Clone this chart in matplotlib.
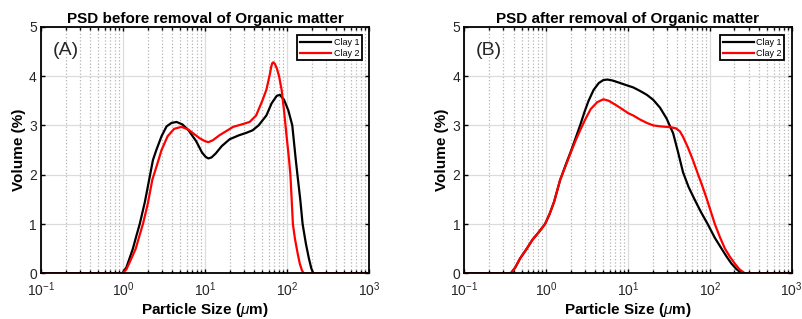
import matplotlib
matplotlib.use("Agg")
import matplotlib.pyplot as plt
from matplotlib.ticker import LogLocator, NullFormatter

plt.rcParams["font.family"] = ["Liberation Sans", "DejaVu Sans"]
plt.rcParams["mathtext.fontset"] = "custom"
plt.rcParams["mathtext.rm"] = "Liberation Sans"
plt.rcParams["mathtext.it"] = "Liberation Sans:italic"
plt.rcParams["mathtext.bf"] = "Liberation Sans:bold"

# (A) before removal of organic matter
a_clay1_x = [0.1, 0.98, 1.0, 1.1, 1.2, 1.32, 1.45, 1.6, 1.85, 2.08, 2.32, 2.55, 2.95, 3.4,
             3.9, 4.5, 5.3, 6.3, 7.8, 9.2, 10.2, 11, 12, 13.5, 16, 20, 26, 32, 38, 45, 56,
             65, 75, 82, 92, 104, 116, 128, 134, 145, 155, 170, 185, 198, 209, 1000]
a_clay1_y = [0, 0, 0.02, 0.12, 0.3, 0.5, 0.75, 1.0, 1.45, 1.89, 2.3, 2.5, 2.78, 2.98,
             3.05, 3.07, 3.02, 2.9, 2.68, 2.45, 2.36, 2.33, 2.35, 2.43, 2.58, 2.72, 2.8,
             2.85, 2.9, 3.0, 3.2, 3.45, 3.6, 3.62, 3.52, 3.3, 3.0, 2.3, 2.0, 1.5, 1.0, 0.6,
             0.3, 0.1, 0, 0]

a_clay2_x = [0.1, 0.98, 1.02, 1.1, 1.25, 1.43, 1.58, 1.75, 2.0, 2.28, 2.6, 2.95, 3.5, 4.2,
             5.15, 6.2, 7.3, 8.6, 10, 11, 12.5, 15, 18, 22, 28, 35, 42, 50, 56, 62, 64, 66,
             68, 71, 75, 80, 86, 92, 98, 106, 110, 114, 118, 125, 135, 143, 152, 160, 1000]
a_clay2_y = [0, 0, 0.02, 0.08, 0.28, 0.5, 0.75, 1.0, 1.4, 1.9, 2.2, 2.5, 2.78, 2.93,
             2.97, 2.92, 2.83, 2.74, 2.68, 2.66, 2.7, 2.8, 2.88, 2.97, 3.02, 3.07, 3.2, 3.5,
             3.72, 4.05, 4.18, 4.26, 4.28, 4.25, 4.16, 4.0, 3.72, 3.3, 2.84, 2.3, 2.0, 1.5,
             1.0, 0.7, 0.4, 0.2, 0.06, 0, 0]

# (B) after removal of organic matter
b_clay1_x = [0.1, 0.37, 0.42, 0.48, 0.58, 0.68, 0.8, 0.97, 1.1, 1.25, 1.48, 1.75, 2.0, 2.3,
             2.6, 2.95, 3.3, 3.8, 4.4, 5.0, 5.6, 6.5, 8, 9.8, 11.6, 14, 17, 20.3, 24.6, 29.6,
             35.6, 41, 47, 55, 65, 78, 94, 115, 139, 160, 183, 210, 244, 1000]
b_clay1_y = [0, 0, 0.12, 0.3, 0.5, 0.68, 0.82, 1.0, 1.2, 1.45, 1.89, 2.22, 2.47, 2.75,
             3.0, 3.28, 3.5, 3.72, 3.86, 3.92, 3.93, 3.91, 3.86, 3.81, 3.77, 3.7, 3.62, 3.52,
             3.36, 3.14, 2.84, 2.45, 2.05, 1.75, 1.5, 1.24, 1.0, 0.72, 0.5, 0.34, 0.2, 0.09,
             0, 0]

b_clay2_x = [0.1, 0.37, 0.42, 0.48, 0.58, 0.68, 0.8, 0.97, 1.1, 1.25, 1.48, 1.75, 2.0, 2.3,
             2.6, 3.0, 3.5, 4.2, 5.0, 5.8, 7, 8.5, 10, 11.6, 14, 17, 20.3, 25, 29.6, 34,
             38.6, 43, 47, 54, 62, 72, 79, 90, 102, 115, 133, 153, 175, 201, 230, 268, 1000]
b_clay2_y = [0, 0, 0.12, 0.3, 0.5, 0.68, 0.82, 1.0, 1.2, 1.45, 1.89, 2.2, 2.45, 2.7,
             2.9, 3.12, 3.33, 3.47, 3.53, 3.5, 3.42, 3.33, 3.25, 3.2, 3.12, 3.05, 3.0, 2.98,
             2.97, 2.96, 2.94, 2.88, 2.77, 2.55, 2.3, 2.0, 1.82, 1.55, 1.27, 1.0, 0.73, 0.5,
             0.34, 0.2, 0.08, 0, 0]

titles = ["PSD before removal of Organic matter", "PSD after removal of Organic matter"]
panel_tags = ["(A)", "(B)"]
series_labels = ["Clay 1", "Clay 2"]


def style_axes(ax):
    ax.set_xscale("log")
    ax.set_xlim(0.1, 1000)
    ax.set_ylim(0, 5)
    ax.set_yticks([0, 1, 2, 3, 4, 5])
    ax.xaxis.set_minor_locator(LogLocator(base=10, subs=range(2, 10), numticks=20))
    ax.xaxis.set_minor_formatter(NullFormatter())
    ax.set_axisbelow(True)
    ax.grid(True, which="major", color="#dcdcdc", linewidth=0.9, linestyle="-")
    ax.grid(True, which="minor", axis="x", color="#b4b4b4", linewidth=0.9, linestyle=":")
    ax.tick_params(which="both", direction="in", top=True, right=True,
                   labelsize=10, labelcolor="#262626", width=1.0)
    ax.tick_params(which="major", length=3)
    ax.tick_params(which="minor", length=2)
    ax.tick_params(axis="x", pad=5)
    ax.tick_params(axis="y", pad=3)
    for sp in ax.spines.values():
        sp.set_linewidth(1.3)
        sp.set_color("black")


fig = plt.figure(figsize=(8.02, 3.19), dpi=100)
ax_a = fig.add_axes([41 / 802, 45.7 / 319, 328 / 802, 246.5 / 319])
ax_b = fig.add_axes([464.3 / 802, 45.7 / 319, 327.4 / 802, 246.5 / 319])

data = [
    (a_clay1_x, a_clay1_y, a_clay2_x, a_clay2_y),
    (b_clay1_x, b_clay1_y, b_clay2_x, b_clay2_y),
]

for ax, (x1, y1, x2, y2), title, tag in zip([ax_a, ax_b], data, titles, panel_tags):
    style_axes(ax)
    ax.plot(x1, y1, color="black", linewidth=1.6, label=series_labels[0])
    ax.plot(x2, y2, color="#ff0000", linewidth=1.6, label=series_labels[1])
    ax.set_title(title, fontsize=11, fontweight="bold", pad=3)
    ax.set_xlabel(r"Particle Size ($\mu$m)", fontsize=11, fontweight="bold", labelpad=1.5)
    ax.set_ylabel("Volume (%)", fontsize=11, fontweight="bold", labelpad=2)
    ax.text(0.076, 0.905, tag, transform=ax.transAxes, fontsize=14,
            ha="center", va="center", color="#262626")
    leg = ax.legend(loc="upper right", bbox_to_anchor=(0.978, 0.966), borderaxespad=0,
                    fontsize=6.5, handlelength=3.4, handletextpad=0.3, labelspacing=0.2,
                    borderpad=0.3, fancybox=False, framealpha=1)
    leg.get_frame().set_edgecolor("black")
    leg.get_frame().set_linewidth(1.3)

fig.savefig("out.png", dpi=100)
